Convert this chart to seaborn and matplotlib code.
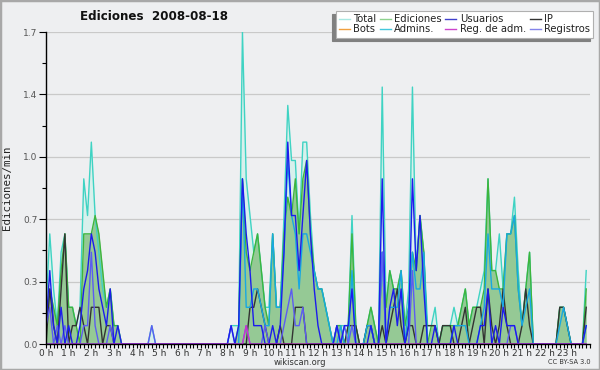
import numpy as np
import matplotlib
matplotlib.use("Agg")
import matplotlib.pyplot as plt
import seaborn as sns
from matplotlib.lines import Line2D
from matplotlib.patches import Rectangle
from matplotlib.ticker import FixedLocator

# ---------------- data (10-minute bins, edits per minute) ----------------
HOUR_LABELS = [f"{h} h" for h in range(24)]
Y_TICKS = [0.0, 0.34, 0.68, 1.02, 1.36, 1.7]
Y_TICK_LABELS = ["0.0", "0.3", "0.7", "1.0", "1.4", "1.7"]
Y_MINOR = [0.17, 0.51, 0.85, 1.19, 1.53]
BIN_MINUTES = 10

TOTAL = [
    0.2, 0.6, 0.3, 0.1, 0.5, 0.6, 0.2, 0.2, 0.1, 0.2, 0.9, 0.7,
    1.1, 0.7, 0.5, 0.3, 0.2, 0.3, 0.1, 0.1, 0.0, 0.0, 0.0, 0.0,
    0.0, 0.0, 0.0, 0.0, 0.1, 0.0, 0.0, 0.0, 0.0, 0.0, 0.0, 0.0,
    0.0, 0.0, 0.0, 0.0, 0.0, 0.0, 0.0, 0.0, 0.0, 0.0, 0.0, 0.0,
    0.0, 0.1, 0.1, 0.1, 1.7, 0.9, 0.7, 0.5, 0.6, 0.4, 0.2, 0.2,
    0.6, 0.2, 0.2, 0.7, 1.3, 1.0, 1.0, 0.6, 1.1, 1.1, 0.7, 0.4,
    0.3, 0.3, 0.2, 0.1, 0.0, 0.1, 0.1, 0.1, 0.1, 0.7, 0.1, 0.0,
    0.0, 0.1, 0.2, 0.1, 0.0, 1.4, 0.2, 0.4, 0.3, 0.3, 0.4, 0.1,
    0.3, 1.4, 0.4, 0.7, 0.5, 0.1, 0.1, 0.2, 0.0, 0.1, 0.1, 0.1,
    0.2, 0.1, 0.2, 0.3, 0.1, 0.2, 0.2, 0.3, 0.4, 0.9, 0.4, 0.4,
    0.6, 0.3, 0.6, 0.6, 0.8, 0.4, 0.1, 0.3, 0.5, 0.0, 0.0, 0.0,
    0.0, 0.0, 0.0, 0.0, 0.2, 0.2, 0.1, 0.0, 0.0, 0.0, 0.0, 0.4,
]
EDICIONES = [
    0.1, 0.3, 0.2, 0.1, 0.4, 0.6, 0.2, 0.2, 0.1, 0.0, 0.6, 0.6,
    0.6, 0.7, 0.6, 0.4, 0.2, 0.3, 0.1, 0.1, 0.0, 0.0, 0.0, 0.0,
    0.0, 0.0, 0.0, 0.0, 0.0, 0.0, 0.0, 0.0, 0.0, 0.0, 0.0, 0.0,
    0.0, 0.0, 0.0, 0.0, 0.0, 0.0, 0.0, 0.0, 0.0, 0.0, 0.0, 0.0,
    0.0, 0.0, 0.0, 0.1, 0.9, 0.5, 0.4, 0.5, 0.6, 0.4, 0.2, 0.1,
    0.6, 0.2, 0.2, 0.6, 0.8, 0.7, 0.9, 0.6, 0.9, 1.0, 0.6, 0.4,
    0.3, 0.3, 0.2, 0.1, 0.0, 0.1, 0.1, 0.0, 0.1, 0.6, 0.1, 0.0,
    0.0, 0.1, 0.2, 0.1, 0.0, 0.5, 0.2, 0.4, 0.3, 0.3, 0.4, 0.1,
    0.2, 0.5, 0.4, 0.7, 0.5, 0.0, 0.1, 0.1, 0.0, 0.1, 0.1, 0.1,
    0.1, 0.1, 0.2, 0.3, 0.1, 0.2, 0.2, 0.2, 0.3, 0.9, 0.4, 0.4,
    0.3, 0.3, 0.6, 0.6, 0.7, 0.3, 0.1, 0.3, 0.5, 0.0, 0.0, 0.0,
    0.0, 0.0, 0.0, 0.0, 0.2, 0.2, 0.1, 0.0, 0.0, 0.0, 0.0, 0.3,
]
USUARIOS = [
    0.1, 0.4, 0.1, 0.0, 0.2, 0.0, 0.1, 0.0, 0.0, 0.1, 0.3, 0.4,
    0.6, 0.5, 0.3, 0.2, 0.1, 0.3, 0.0, 0.1, 0.0, 0.0, 0.0, 0.0,
    0.0, 0.0, 0.0, 0.0, 0.0, 0.0, 0.0, 0.0, 0.0, 0.0, 0.0, 0.0,
    0.0, 0.0, 0.0, 0.0, 0.0, 0.0, 0.0, 0.0, 0.0, 0.0, 0.0, 0.0,
    0.0, 0.1, 0.0, 0.1, 0.9, 0.6, 0.4, 0.1, 0.1, 0.1, 0.0, 0.0,
    0.1, 0.0, 0.1, 0.5, 1.1, 0.7, 0.7, 0.4, 0.7, 1.0, 0.6, 0.3,
    0.1, 0.0, 0.0, 0.0, 0.0, 0.1, 0.0, 0.1, 0.1, 0.3, 0.0, 0.0,
    0.0, 0.0, 0.1, 0.0, 0.0, 0.9, 0.0, 0.2, 0.3, 0.1, 0.3, 0.0,
    0.1, 0.9, 0.4, 0.7, 0.3, 0.0, 0.0, 0.1, 0.0, 0.0, 0.0, 0.0,
    0.1, 0.0, 0.0, 0.0, 0.0, 0.0, 0.0, 0.1, 0.1, 0.3, 0.0, 0.1,
    0.0, 0.2, 0.1, 0.1, 0.1, 0.0, 0.0, 0.0, 0.0, 0.0, 0.0, 0.0,
    0.0, 0.0, 0.0, 0.0, 0.0, 0.0, 0.0, 0.0, 0.0, 0.0, 0.0, 0.1,
]
IP = [
    0.0, 0.3, 0.1, 0.0, 0.3, 0.6, 0.0, 0.1, 0.1, 0.2, 0.1, 0.0,
    0.2, 0.2, 0.2, 0.0, 0.1, 0.1, 0.0, 0.0, 0.0, 0.0, 0.0, 0.0,
    0.0, 0.0, 0.0, 0.0, 0.0, 0.0, 0.0, 0.0, 0.0, 0.0, 0.0, 0.0,
    0.0, 0.0, 0.0, 0.0, 0.0, 0.0, 0.0, 0.0, 0.0, 0.0, 0.0, 0.0,
    0.0, 0.0, 0.0, 0.0, 0.0, 0.0, 0.2, 0.2, 0.3, 0.2, 0.1, 0.0,
    0.0, 0.0, 0.1, 0.0, 0.0, 0.0, 0.2, 0.2, 0.2, 0.0, 0.0, 0.0,
    0.0, 0.0, 0.0, 0.0, 0.0, 0.0, 0.0, 0.0, 0.1, 0.1, 0.1, 0.0,
    0.0, 0.1, 0.1, 0.0, 0.0, 0.1, 0.0, 0.1, 0.2, 0.3, 0.1, 0.0,
    0.1, 0.1, 0.0, 0.0, 0.1, 0.1, 0.1, 0.1, 0.0, 0.1, 0.1, 0.1,
    0.0, 0.0, 0.1, 0.2, 0.0, 0.1, 0.2, 0.2, 0.0, 0.3, 0.1, 0.0,
    0.1, 0.3, 0.1, 0.0, 0.0, 0.0, 0.1, 0.3, 0.1, 0.0, 0.0, 0.0,
    0.0, 0.0, 0.0, 0.0, 0.2, 0.2, 0.1, 0.0, 0.0, 0.0, 0.0, 0.2,
]
ADMINS = [
    0.0, 0.0, 0.0, 0.0, 0.0, 0.0, 0.0, 0.0, 0.0, 0.0, 0.0, 0.0,
    0.0, 0.0, 0.0, 0.0, 0.0, 0.0, 0.0, 0.0, 0.0, 0.0, 0.0, 0.0,
    0.0, 0.0, 0.0, 0.0, 0.0, 0.0, 0.0, 0.0, 0.0, 0.0, 0.0, 0.0,
    0.0, 0.0, 0.0, 0.0, 0.0, 0.0, 0.0, 0.0, 0.0, 0.0, 0.0, 0.0,
    0.0, 0.0, 0.0, 0.0, 0.9, 0.2, 0.2, 0.3, 0.3, 0.2, 0.1, 0.1,
    0.6, 0.2, 0.2, 0.5, 1.0, 0.7, 0.6, 0.3, 0.6, 0.6, 0.5, 0.4,
    0.3, 0.3, 0.2, 0.1, 0.0, 0.0, 0.1, 0.0, 0.0, 0.4, 0.0, 0.0,
    0.0, 0.1, 0.1, 0.0, 0.0, 0.5, 0.0, 0.2, 0.2, 0.2, 0.4, 0.0,
    0.2, 0.5, 0.3, 0.3, 0.5, 0.0, 0.0, 0.0, 0.0, 0.0, 0.0, 0.0,
    0.1, 0.1, 0.1, 0.1, 0.0, 0.0, 0.0, 0.1, 0.2, 0.6, 0.3, 0.3,
    0.3, 0.2, 0.6, 0.6, 0.7, 0.3, 0.1, 0.2, 0.3, 0.0, 0.0, 0.0,
    0.0, 0.0, 0.0, 0.0, 0.1, 0.2, 0.1, 0.0, 0.0, 0.0, 0.0, 0.1,
]
REGISTROS = [
    0.1, 0.2, 0.0, 0.1, 0.0, 0.1, 0.0, 0.0, 0.0, 0.0, 0.1, 0.1,
    0.5, 0.1, 0.0, 0.0, 0.0, 0.1, 0.0, 0.0, 0.0, 0.0, 0.0, 0.0,
    0.0, 0.0, 0.0, 0.0, 0.1, 0.0, 0.0, 0.0, 0.0, 0.0, 0.0, 0.0,
    0.0, 0.0, 0.0, 0.0, 0.0, 0.0, 0.0, 0.0, 0.0, 0.0, 0.0, 0.0,
    0.0, 0.1, 0.0, 0.0, 0.0, 0.1, 0.0, 0.0, 0.0, 0.0, 0.1, 0.0,
    0.0, 0.0, 0.0, 0.1, 0.2, 0.3, 0.1, 0.1, 0.2, 0.0, 0.0, 0.0,
    0.0, 0.0, 0.0, 0.0, 0.0, 0.1, 0.0, 0.1, 0.0, 0.1, 0.0, 0.0,
    0.0, 0.0, 0.0, 0.0, 0.0, 0.5, 0.0, 0.0, 0.0, 0.0, 0.0, 0.0,
    0.0, 0.4, 0.0, 0.0, 0.0, 0.0, 0.0, 0.0, 0.0, 0.0, 0.0, 0.0,
    0.0, 0.0, 0.0, 0.0, 0.0, 0.0, 0.0, 0.0, 0.0, 0.0, 0.0, 0.0,
    0.0, 0.0, 0.0, 0.1, 0.1, 0.0, 0.0, 0.0, 0.0, 0.0, 0.0, 0.0,
    0.0, 0.0, 0.0, 0.0, 0.0, 0.0, 0.0, 0.0, 0.0, 0.0, 0.0, 0.0,
]
REG_ADM = [0.0] * 53 + [0.1] + [0.0] * 90

LEGEND_ORDER = ["Total", "Bots", "Ediciones", "Admins.",
                "Usuarios", "Reg. de adm.", "IP", "Registros"]

# ---------------- styling ----------------
BG = "#eeeff1"
C_TOTAL_LINE, C_TOTAL_FILL = "#3fd3c3", "#d8f0ec"
C_EDIC_LINE, C_EDIC_FILL = "#3db53d", "#95c995"
C_USU = "#1c1cec"
C_IP = "#333333"
C_ADM = "#18a8e2"
C_REGADM = "#cc33cc"
C_REG = "#5c5cf2"
LEGEND_COLORS = {"Total": "#a8e8e2", "Ediciones": "#8ed28e", "Usuarios": "#4040cc",
                 "IP": "#333333", "Bots": "#f0a040", "Admins.": "#44c8dc",
                 "Reg. de adm.": "#cc44cc", "Registros": "#8484ea"}

hours = np.arange(len(TOTAL)) * BIN_MINUTES / 60.0

fig = plt.figure(figsize=(6.0, 3.7), dpi=100, facecolor=BG)
ax = fig.add_axes([46 / 600, 1 - 344 / 370, 544 / 600, 312 / 370])
ax.set_facecolor(BG)

# grid
for yt in Y_TICKS[1:]:
    ax.axhline(yt, color="#c9c9c9", lw=0.9, zorder=0.5)

ax.fill_between(hours, TOTAL, color=C_TOTAL_FILL, lw=0, zorder=1)
ax.fill_between(hours, EDICIONES, color=C_EDIC_FILL, lw=0, zorder=1.1)

series = [
    (TOTAL, C_TOTAL_LINE),
    (EDICIONES, C_EDIC_LINE),
    (IP, C_IP),
    (ADMINS, C_ADM),
    (REGISTROS, C_REG),
    (USUARIOS, C_USU),
    (REG_ADM, C_REGADM),
]
for vals, col in series:
    sns.lineplot(x=hours, y=vals, ax=ax, color=col, lw=1.0, estimator=None,
                 legend=False, zorder=2)

ax.set_xlim(0, 24)
ax.set_ylim(0, 1.7)

ax.set_xticks(range(24))
ax.set_xticklabels(HOUR_LABELS, fontsize=6.5, color="#333333")
ax.xaxis.set_minor_locator(FixedLocator(np.arange(0, 24.01, 1 / 6)))
ax.tick_params(axis="x", which="both", direction="out", length=3, width=0.8,
               pad=0.5, color="black")

ax.set_yticks(Y_TICKS)
ax.set_yticklabels(Y_TICK_LABELS, fontsize=6.5, color="#555555")
ax.yaxis.set_minor_locator(FixedLocator(Y_MINOR))
ax.tick_params(axis="y", which="major", direction="out", length=5, width=0.8, pad=1)
ax.tick_params(axis="y", which="minor", direction="out", length=3, width=0.8)

for s in ["top", "right"]:
    ax.spines[s].set_visible(False)
for s in ["left", "bottom"]:
    ax.spines[s].set_color("black")
    ax.spines[s].set_linewidth(1.0)
    ax.spines[s].set_zorder(3)

ax.set_xlabel("")
ax.set_ylabel("Ediciones/min", fontsize=7.8, family="DejaVu Sans Mono", color="#222222")
ax.yaxis.set_label_coords(-(46 - 12) / 544, 0.5)

# title & footer
fig.text(154 / 600, 1 - 17 / 370, "Ediciones  2008-08-18", ha="center", va="center",
         fontsize=8.6, fontweight="bold", color="#111111")
fig.text(300 / 600, 1 - 362.5 / 370, "wikiscan.org", ha="center", va="center",
         fontsize=6.0, color="#333333")
fig.text(569 / 600, 1 - 362.5 / 370, "CC BY-SA 3.0", ha="center", va="center",
         fontsize=4.8, color="#333333")

# legend
handles = [Line2D([0], [0], color=LEGEND_COLORS[n], lw=1.0) for n in LEGEND_ORDER]
leg = fig.legend(handles, LEGEND_ORDER, ncol=4, loc="upper right",
                 bbox_to_anchor=(593 / 600, 1 - 11 / 370), fontsize=7.2,
                 frameon=True, fancybox=False, handlelength=1.1,
                 handletextpad=0.35, columnspacing=0.35, labelspacing=0.05,
                 borderpad=0.3, borderaxespad=0.0,
                 shadow={"ox": -2.2, "oy": -2.2, "facecolor": "#808080",
                         "edgecolor": "#808080", "alpha": 1.0})
leg.get_frame().set_facecolor("white")
leg.get_frame().set_edgecolor("#b0b0b0")
leg.get_frame().set_linewidth(0.8)
for t in leg.get_texts():
    t.set_color("#222222")

# outer border
fig.patches.append(Rectangle((0, 0), 1, 1, transform=fig.transFigure, fill=False,
                             edgecolor="#a8a8a8", lw=2.5, zorder=10))

fig.savefig("out.png", dpi=100, facecolor=BG)
